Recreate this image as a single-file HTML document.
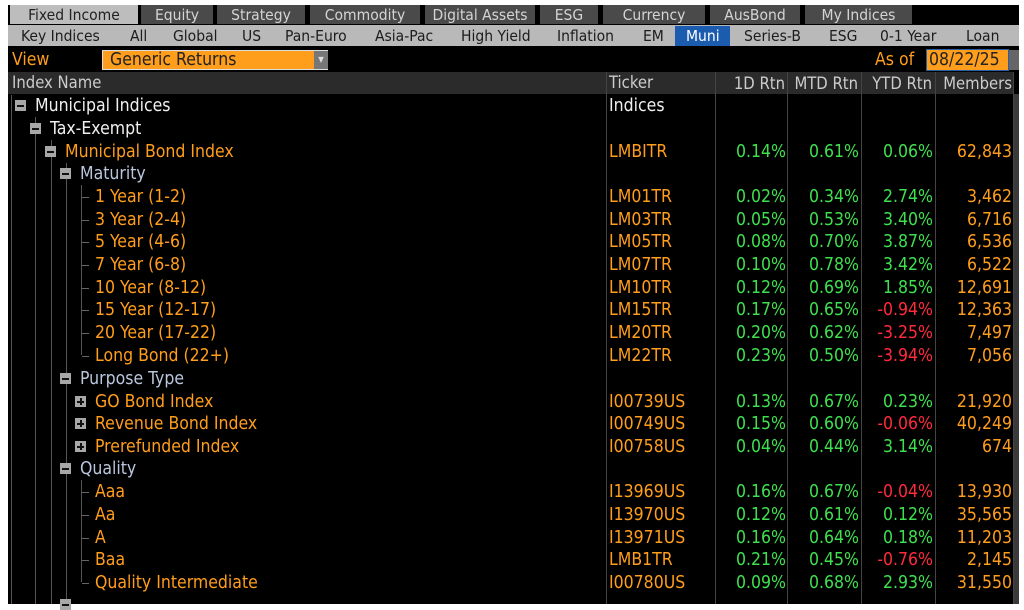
<!DOCTYPE html>
<html><head><meta charset="utf-8"><style>
body{margin:0;width:1024px;height:604px;background:#fff;overflow:hidden;font-family:"DejaVu Sans Condensed","Liberation Sans",sans-serif;}
#s{position:absolute;left:8px;top:5px;width:1011px;height:599px;background:#000;}
.a{position:absolute;white-space:nowrap;}
.tab{position:absolute;top:5px;height:19px;background:#4a4a4a;color:#d4d4d4;font-size:15.5px;line-height:20px;text-align:center;}
.t2{position:absolute;top:26px;font-size:15.5px;line-height:20px;color:#1c1c1c;}
.r{position:absolute;font-size:17.5px;line-height:22px;white-space:nowrap;margin-top:1px;}
.o{color:#ff9d1c}.g{color:#3fe04f}.rd{color:#ff2a3c}.w{color:#f0f0f0}.b{color:#b9c6dc}
.box{position:absolute;width:11px;height:11px;background:#a8a8a8;}
.box:after{content:"";position:absolute;left:2px;top:5px;width:7px;height:2px;background:#111;}
.plus:before{content:"";position:absolute;left:4.5px;top:2px;width:2px;height:7px;background:#111;}
.vl{position:absolute;width:1px;background:#555;}
.hl{position:absolute;height:1px;width:7px;background:#666;}
.num{position:absolute;text-align:right;font-size:17.5px;line-height:22px;margin-top:1px;}
</style></head><body>
<div id="s"></div>
<!-- tabs row 1 -->
<div class="tab" style="left:10px;width:128px;background:#bdbdbd;color:#222">Fixed Income</div>
<div class="tab" style="left:141px;width:72px">Equity</div>
<div class="tab" style="left:217px;width:88px">Strategy</div>
<div class="tab" style="left:310px;width:110px">Commodity</div>
<div class="tab" style="left:425px;width:110px">Digital Assets</div>
<div class="tab" style="left:540px;width:58px">ESG</div>
<div class="tab" style="left:603px;width:102px">Currency</div>
<div class="tab" style="left:710px;width:90px">AusBond</div>
<div class="tab" style="left:805px;width:107px">My Indices</div>
<!-- row 2 -->
<div class="a" style="left:8px;top:25px;width:1011px;height:21px;background:#b9b9b9"></div>
<div class="a" style="left:675px;top:26px;width:55px;height:20px;background:#1b5cae"></div>
<div class="t2" style="left:21px">Key Indices</div>
<div class="t2" style="left:130px">All</div>
<div class="t2" style="left:173px">Global</div>
<div class="t2" style="left:242px">US</div>
<div class="t2" style="left:285px">Pan-Euro</div>
<div class="t2" style="left:375px">Asia-Pac</div>
<div class="t2" style="left:461px">High Yield</div>
<div class="t2" style="left:557px">Inflation</div>
<div class="t2" style="left:643px">EM</div>
<div class="t2" style="left:686px;color:#fff">Muni</div>
<div class="t2" style="left:744px">Series-B</div>
<div class="t2" style="left:829px">ESG</div>
<div class="t2" style="left:880px">0-1 Year</div>
<div class="t2" style="left:966px">Loan</div>
<!-- view row -->
<div class="a o" style="left:12px;top:50px;font-size:17.5px;line-height:20px">View</div>
<div class="a" style="left:102px;top:50px;width:226px;height:20px;background:#ff9d1c;border:1px solid #ddd;box-sizing:border-box"></div>
<div class="a" style="left:110px;top:50px;font-size:17.5px;line-height:20px;color:#222">Generic Returns</div>
<div class="a" style="left:314px;top:51px;width:14px;height:18px;background:#777;color:#ddd;font-size:8px;line-height:18px;text-align:center">▼</div>
<div class="a o" style="left:875px;top:50px;font-size:17.5px;line-height:20px">As of</div>
<div class="a" style="left:926px;top:49px;width:83px;height:22px;background:#ff9d1c;border:1px solid #2a5fa8;box-sizing:border-box"></div>
<div class="a" style="left:929px;top:50px;font-size:17.5px;line-height:20px;color:#222">08/22/25</div>
<div class="a" style="left:1009px;top:50px;width:10px;height:20px;background:#666"></div>
<!-- header -->
<div class="a" style="left:8px;top:72px;width:1006px;height:22px;background:#2b2b2b"></div>
<div class="a" style="left:12px;top:73px;font-size:16.5px;line-height:20px;color:#ccc">Index Name</div>
<div class="a" style="left:609px;top:73px;font-size:16.5px;line-height:20px;color:#ccc">Ticker</div>
<div class="num" style="left:700px;width:85px;top:72px;color:#ccc;font-size:16.5px">1D Rtn</div>
<div class="num" style="left:780px;width:78px;top:72px;color:#ccc;font-size:16.5px">MTD Rtn</div>
<div class="num" style="left:850px;width:82px;top:72px;color:#ccc;font-size:16.5px">YTD Rtn</div>
<div class="num" style="left:930px;width:82px;top:72px;color:#ccc;font-size:16.5px">Members</div>
<div class="a" style="left:1014px;top:94px;width:5px;height:510px;background:#3a3a3a"></div>
<!-- column separators -->
<div class="vl" style="left:606px;top:72px;height:532px;background:#444"></div>
<div class="vl" style="left:715px;top:72px;height:532px;background:#444"></div>
<div class="vl" style="left:787px;top:72px;height:532px;background:#444"></div>
<div class="vl" style="left:861px;top:72px;height:532px;background:#444"></div>
<div class="vl" style="left:935px;top:72px;height:532px;background:#444"></div>
<div class="vl" style="left:1013px;top:72px;height:532px;background:#444"></div>
<!-- tree lines -->
<div class="vl" style="left:11px;top:95px;height:509px"></div>
<div class="vl" style="left:35px;top:117px;height:487px"></div>
<div class="vl" style="left:51px;top:140px;height:464px"></div>
<div class="vl" style="left:66px;top:163px;height:441px"></div>
<div class="vl" style="left:81px;top:185px;height:170px"></div>
<div class="vl" style="left:81px;top:480px;height:102px"></div>
<!-- boxes -->
<div class="box" style="left:15px;top:100px"></div>
<div class="box" style="left:30px;top:123px"></div>
<div class="box" style="left:45px;top:146px"></div>
<div class="box" style="left:60px;top:168px"></div>
<div class="box" style="left:60px;top:373px"></div>
<div class="box plus" style="left:75px;top:396px"></div>
<div class="box plus" style="left:75px;top:418px"></div>
<div class="box plus" style="left:75px;top:441px"></div>
<div class="box" style="left:60px;top:463px"></div>
<div class="box" style="left:60px;top:599px"></div>
<!-- labels -->
<div class="r w" style="left:35px;top:94px">Municipal Indices</div>
<div class="r w" style="left:609px;top:94px">Indices</div>
<div class="r w" style="left:50px;top:117px">Tax-Exempt</div>
<div class="r o" style="left:65px;top:140px">Municipal Bond Index</div>
<div class="r b" style="left:80px;top:162px">Maturity</div>
<div class="r b" style="left:80px;top:367px">Purpose Type</div>
<div class="r b" style="left:80px;top:457px">Quality</div>

<div class="r o" style="left:609px;top:140px">LMBITR</div>
<div class="num g" style="left:700px;width:86px;top:140px">0.14%</div>
<div class="num g" style="left:780px;width:79px;top:140px">0.61%</div>
<div class="num g" style="left:850px;width:83px;top:140px">0.06%</div>
<div class="num o" style="left:930px;width:82px;top:140px">62,843</div>

<!-- data rows -->
<div class="hl" style="left:82px;top:197px"></div><div class="r o" style="left:95px;top:185px">1 Year (1-2)</div><div class="r o" style="left:609px;top:185px">LM01TR</div><div class="num g" style="left:700px;width:86px;top:185px">0.02%</div><div class="num g" style="left:780px;width:79px;top:185px">0.34%</div><div class="num g" style="left:850px;width:83px;top:185px">2.74%</div><div class="num o" style="left:930px;width:82px;top:185px">3,462</div>
<div class="hl" style="left:82px;top:220px"></div><div class="r o" style="left:95px;top:208px">3 Year (2-4)</div><div class="r o" style="left:609px;top:208px">LM03TR</div><div class="num g" style="left:700px;width:86px;top:208px">0.05%</div><div class="num g" style="left:780px;width:79px;top:208px">0.53%</div><div class="num g" style="left:850px;width:83px;top:208px">3.40%</div><div class="num o" style="left:930px;width:82px;top:208px">6,716</div>
<div class="hl" style="left:82px;top:242px"></div><div class="r o" style="left:95px;top:230px">5 Year (4-6)</div><div class="r o" style="left:609px;top:230px">LM05TR</div><div class="num g" style="left:700px;width:86px;top:230px">0.08%</div><div class="num g" style="left:780px;width:79px;top:230px">0.70%</div><div class="num g" style="left:850px;width:83px;top:230px">3.87%</div><div class="num o" style="left:930px;width:82px;top:230px">6,536</div>
<div class="hl" style="left:82px;top:265px"></div><div class="r o" style="left:95px;top:253px">7 Year (6-8)</div><div class="r o" style="left:609px;top:253px">LM07TR</div><div class="num g" style="left:700px;width:86px;top:253px">0.10%</div><div class="num g" style="left:780px;width:79px;top:253px">0.78%</div><div class="num g" style="left:850px;width:83px;top:253px">3.42%</div><div class="num o" style="left:930px;width:82px;top:253px">6,522</div>
<div class="hl" style="left:82px;top:288px"></div><div class="r o" style="left:95px;top:276px">10 Year (8-12)</div><div class="r o" style="left:609px;top:276px">LM10TR</div><div class="num g" style="left:700px;width:86px;top:276px">0.12%</div><div class="num g" style="left:780px;width:79px;top:276px">0.69%</div><div class="num g" style="left:850px;width:83px;top:276px">1.85%</div><div class="num o" style="left:930px;width:82px;top:276px">12,691</div>
<div class="hl" style="left:82px;top:310px"></div><div class="r o" style="left:95px;top:298px">15 Year (12-17)</div><div class="r o" style="left:609px;top:298px">LM15TR</div><div class="num g" style="left:700px;width:86px;top:298px">0.17%</div><div class="num g" style="left:780px;width:79px;top:298px">0.65%</div><div class="num rd" style="left:850px;width:83px;top:298px">-0.94%</div><div class="num o" style="left:930px;width:82px;top:298px">12,363</div>
<div class="hl" style="left:82px;top:333px"></div><div class="r o" style="left:95px;top:321px">20 Year (17-22)</div><div class="r o" style="left:609px;top:321px">LM20TR</div><div class="num g" style="left:700px;width:86px;top:321px">0.20%</div><div class="num g" style="left:780px;width:79px;top:321px">0.62%</div><div class="num rd" style="left:850px;width:83px;top:321px">-3.25%</div><div class="num o" style="left:930px;width:82px;top:321px">7,497</div>
<div class="hl" style="left:82px;top:356px"></div><div class="r o" style="left:95px;top:344px">Long Bond (22+)</div><div class="r o" style="left:609px;top:344px">LM22TR</div><div class="num g" style="left:700px;width:86px;top:344px">0.23%</div><div class="num g" style="left:780px;width:79px;top:344px">0.50%</div><div class="num rd" style="left:850px;width:83px;top:344px">-3.94%</div><div class="num o" style="left:930px;width:82px;top:344px">7,056</div>

<div class="r o" style="left:95px;top:390px">GO Bond Index</div><div class="r o" style="left:609px;top:390px">I00739US</div><div class="num g" style="left:700px;width:86px;top:390px">0.13%</div><div class="num g" style="left:780px;width:79px;top:390px">0.67%</div><div class="num g" style="left:850px;width:83px;top:390px">0.23%</div><div class="num o" style="left:930px;width:82px;top:390px">21,920</div>
<div class="r o" style="left:95px;top:412px">Revenue Bond Index</div><div class="r o" style="left:609px;top:412px">I00749US</div><div class="num g" style="left:700px;width:86px;top:412px">0.15%</div><div class="num g" style="left:780px;width:79px;top:412px">0.60%</div><div class="num rd" style="left:850px;width:83px;top:412px">-0.06%</div><div class="num o" style="left:930px;width:82px;top:412px">40,249</div>
<div class="r o" style="left:95px;top:435px">Prerefunded Index</div><div class="r o" style="left:609px;top:435px">I00758US</div><div class="num g" style="left:700px;width:86px;top:435px">0.04%</div><div class="num g" style="left:780px;width:79px;top:435px">0.44%</div><div class="num g" style="left:850px;width:83px;top:435px">3.14%</div><div class="num o" style="left:930px;width:82px;top:435px">674</div>

<div class="hl" style="left:82px;top:492px"></div><div class="r o" style="left:95px;top:480px">Aaa</div><div class="r o" style="left:609px;top:480px">I13969US</div><div class="num g" style="left:700px;width:86px;top:480px">0.16%</div><div class="num g" style="left:780px;width:79px;top:480px">0.67%</div><div class="num rd" style="left:850px;width:83px;top:480px">-0.04%</div><div class="num o" style="left:930px;width:82px;top:480px">13,930</div>
<div class="hl" style="left:82px;top:515px"></div><div class="r o" style="left:95px;top:503px">Aa</div><div class="r o" style="left:609px;top:503px">I13970US</div><div class="num g" style="left:700px;width:86px;top:503px">0.12%</div><div class="num g" style="left:780px;width:79px;top:503px">0.61%</div><div class="num g" style="left:850px;width:83px;top:503px">0.12%</div><div class="num o" style="left:930px;width:82px;top:503px">35,565</div>
<div class="hl" style="left:82px;top:538px"></div><div class="r o" style="left:95px;top:526px">A</div><div class="r o" style="left:609px;top:526px">I13971US</div><div class="num g" style="left:700px;width:86px;top:526px">0.16%</div><div class="num g" style="left:780px;width:79px;top:526px">0.64%</div><div class="num g" style="left:850px;width:83px;top:526px">0.18%</div><div class="num o" style="left:930px;width:82px;top:526px">11,203</div>
<div class="hl" style="left:82px;top:560px"></div><div class="r o" style="left:95px;top:548px">Baa</div><div class="r o" style="left:609px;top:548px">LMB1TR</div><div class="num g" style="left:700px;width:86px;top:548px">0.21%</div><div class="num g" style="left:780px;width:79px;top:548px">0.45%</div><div class="num rd" style="left:850px;width:83px;top:548px">-0.76%</div><div class="num o" style="left:930px;width:82px;top:548px">2,145</div>
<div class="hl" style="left:82px;top:583px"></div><div class="r o" style="left:95px;top:571px">Quality Intermediate</div><div class="r o" style="left:609px;top:571px">I00780US</div><div class="num g" style="left:700px;width:86px;top:571px">0.09%</div><div class="num g" style="left:780px;width:79px;top:571px">0.68%</div><div class="num g" style="left:850px;width:83px;top:571px">2.93%</div><div class="num o" style="left:930px;width:82px;top:571px">31,550</div>
</body></html>
